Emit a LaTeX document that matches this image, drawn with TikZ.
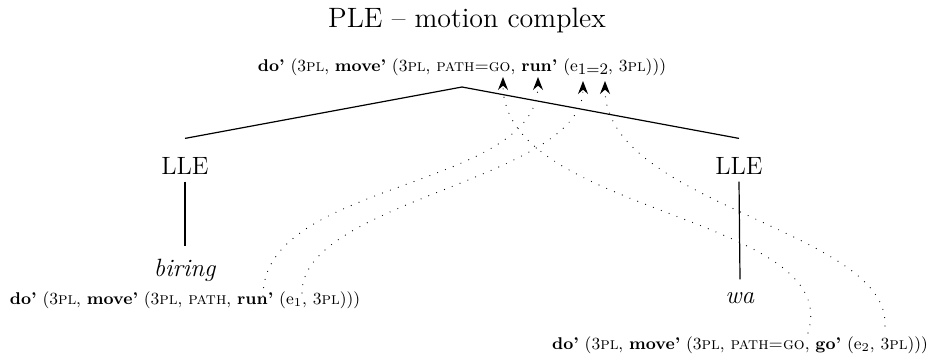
\documentclass[tikz,border=0pt]{standalone}
\usetikzlibrary{arrows.meta}
\newcommand{\lowsub}[1]{\raisebox{-0.4ex}{\fontsize{8}{9}\selectfont #1}}
\begin{document}
\begin{tikzpicture}[
    x=0.5pt,y=-0.5pt,
    big/.style={font=\fontsize{12.5}{15}\selectfont},
    sem/.style={font=\fontsize{8.5}{10}\selectfont, inner sep=1pt},
    branch/.style={line width=0.6pt},
    link/.style={line width=0.6pt, line cap=round, dash pattern=on 0pt off 4.2pt, -{Stealth[length=6.5pt,width=5pt,inset=2.2pt]}}
  ]
    \useasboundingbox (0,0) rectangle (940,360);

    \node[big, font=\fontsize{14}{16}\selectfont] (title) at (467,20) {PLE -- motion complex};
    \node[sem] (top) at (462,67) {\textbf{do'} (3\textsc{pl}, \textbf{move'} (3\textsc{pl}, \textsc{path=go}, \textbf{run'} (e\lowsub{1=2}, 3\textsc{pl})))};

    \coordinate (root) at (462,87);
    \node[big] (lleL) at (185,166) {LLE};
    \node[big] (lleR) at (739,166) {LLE};
    \node[big] (biring) at (185,270) {\textit{biring}};
    \node[big] (wa) at (740,298) {\textit{wa}};

    \node[sem] (semL) at (185,300) {\textbf{do'} (3\textsc{pl}, \textbf{move'} (3\textsc{pl}, \textsc{path}, \textbf{run'} (e$_1$, 3\textsc{pl})))};
    \node[sem] (semR) at (740,345) {\textbf{do'} (3\textsc{pl}, \textbf{move'} (3\textsc{pl}, \textsc{path=go}, \textbf{go'} (e$_2$, 3\textsc{pl})))};

    \draw[branch] (root) -- ([yshift=6pt]lleL.north);
    \draw[branch] (root) -- ([yshift=6pt]lleR.north);
    \draw[branch] (lleL.south) -- ([yshift=3pt]biring.north);
    \draw[branch] (lleR.south) -- ([yshift=3pt]wa.north);

    % ends of the dotted links
    \coordinate (runB) at (263,296);
    \coordinate (oneB) at (302,293);
    \coordinate (goB) at (808,333);
    \coordinate (twoB) at (885,326);
    \coordinate (goT) at (503,77);
    \coordinate (runT) at (538,77);
    \coordinate (oneT) at (583,81);
    \coordinate (twoT) at (605,81);

    \draw[link] (runB) .. controls (263,180) and (538,190) .. (runT);
    \draw[link] (oneB) .. controls (302,200) and (583,180) .. (oneT);
    \draw[link] (goB) .. controls (845,215) and (503,215) .. (goT);
    \draw[link] (twoB) .. controls (890,230) and (605,205) .. (twoT);
\end{tikzpicture}
\end{document}
